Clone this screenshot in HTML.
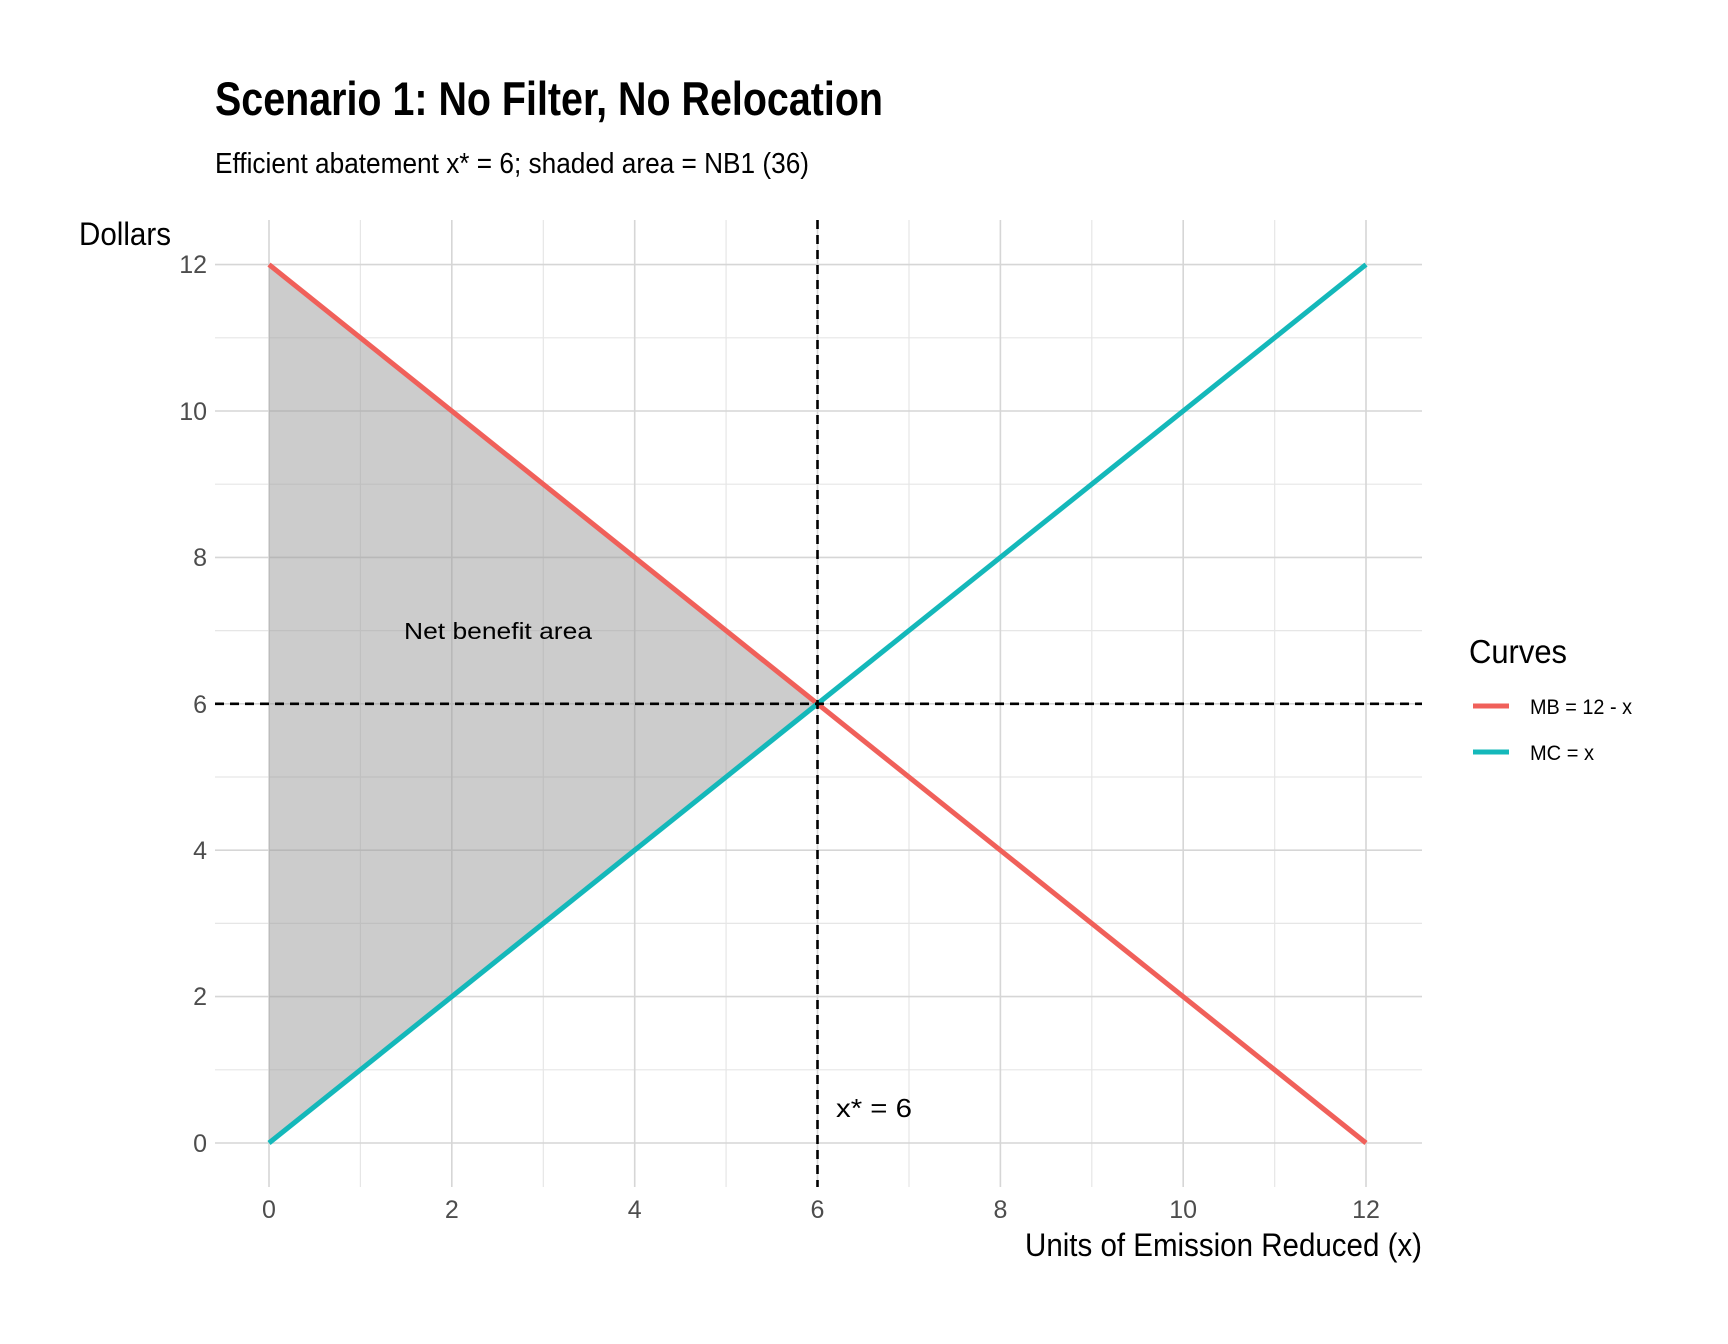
<!DOCTYPE html>
<html><head><meta charset="utf-8"><style>html,body{margin:0;padding:0;background:#fff}svg{display:block}</style></head>
<body>
<svg width="1728" height="1344" viewBox="0 0 1728 1344" xmlns="http://www.w3.org/2000/svg" font-family="'Liberation Sans Narrow','Liberation Sans',sans-serif">
<rect width="1728" height="1344" fill="#fff"/>
<g stroke="#e6e6e6" stroke-width="1.2">
<line x1="215" x2="1422" y1="1069.8" y2="1069.8"/><line x1="215" x2="1422" y1="923.4" y2="923.4"/><line x1="215" x2="1422" y1="777" y2="777"/><line x1="215" x2="1422" y1="630.6" y2="630.6"/><line x1="215" x2="1422" y1="484.2" y2="484.2"/><line x1="215" x2="1422" y1="337.8" y2="337.8"/>
<line y1="220" y2="1187" x1="360.4" x2="360.4"/><line y1="220" y2="1187" x1="543.3" x2="543.3"/><line y1="220" y2="1187" x1="726.1" x2="726.1"/><line y1="220" y2="1187" x1="909" x2="909"/><line y1="220" y2="1187" x1="1091.8" x2="1091.8"/><line y1="220" y2="1187" x1="1274.7" x2="1274.7"/>
</g>
<g stroke="#d6d6d6" stroke-width="1.6">
<line x1="215" x2="1422" y1="1143" y2="1143"/><line x1="215" x2="1422" y1="996.6" y2="996.6"/><line x1="215" x2="1422" y1="850.2" y2="850.2"/><line x1="215" x2="1422" y1="703.8" y2="703.8"/><line x1="215" x2="1422" y1="557.4" y2="557.4"/><line x1="215" x2="1422" y1="411" y2="411"/><line x1="215" x2="1422" y1="264.6" y2="264.6"/>
<line y1="220" y2="1187" x1="269" x2="269"/><line y1="220" y2="1187" x1="451.8" x2="451.8"/><line y1="220" y2="1187" x1="634.7" x2="634.7"/><line y1="220" y2="1187" x1="817.5" x2="817.5"/><line y1="220" y2="1187" x1="1000.4" x2="1000.4"/><line y1="220" y2="1187" x1="1183.2" x2="1183.2"/><line y1="220" y2="1187" x1="1366" x2="1366"/>
</g>
<polygon points="269,264.6 817.5,703.8 269,1143" fill="#999" fill-opacity="0.5"/>
<line x1="269" y1="264.6" x2="1366" y2="1143" stroke="#F0605A" stroke-width="5"/>
<line x1="269" y1="1143" x2="1366" y2="264.6" stroke="#14B8BA" stroke-width="5"/>
<g stroke="#000" stroke-width="2.6" stroke-dasharray="9,6">
<line x1="215" x2="1422" y1="703.8" y2="703.8"/>
<line y1="220" y2="1187" x1="817.5" x2="817.5"/>
</g>
<text x="498" y="639" font-family="'Liberation Sans',sans-serif" font-size="23" text-anchor="middle" textLength="188" lengthAdjust="spacingAndGlyphs">Net benefit area</text>
<text x="836" y="1117" font-family="'Liberation Sans',sans-serif" font-size="26" textLength="76" lengthAdjust="spacingAndGlyphs">x* = 6</text>
<g fill="#4d4d4d" font-size="25">
<g text-anchor="end"><text x="207" y="1152">0</text><text x="207" y="1005">2</text><text x="207" y="859">4</text><text x="207" y="713">6</text><text x="207" y="566">8</text><text x="207" y="420">10</text><text x="207" y="273">12</text></g>
<g text-anchor="middle"><text x="269" y="1218">0</text><text x="451.8" y="1218">2</text><text x="634.7" y="1218">4</text><text x="817.5" y="1218">6</text><text x="1000.4" y="1218">8</text><text x="1183.2" y="1218">10</text><text x="1366" y="1218">12</text></g>
</g>
<text x="79" y="245" font-size="32" textLength="92" lengthAdjust="spacingAndGlyphs">Dollars</text>
<text x="1025" y="1256" font-size="32" textLength="397" lengthAdjust="spacingAndGlyphs">Units of Emission Reduced (x)</text>
<text x="215" y="115" font-size="47" font-weight="bold" textLength="668" lengthAdjust="spacingAndGlyphs">Scenario 1: No Filter, No Relocation</text>
<text x="215" y="173" font-size="29" textLength="594" lengthAdjust="spacingAndGlyphs">Efficient abatement x* = 6; shaded area = NB1 (36)</text>
<text x="1469" y="663" font-size="33" textLength="98" lengthAdjust="spacingAndGlyphs">Curves</text>
<line x1="1473" x2="1509" y1="706" y2="706" stroke="#F0605A" stroke-width="5"/>
<line x1="1473" x2="1509" y1="752" y2="752" stroke="#14B8BA" stroke-width="5"/>
<text x="1530" y="714" font-size="21" textLength="102" lengthAdjust="spacingAndGlyphs">MB = 12 - x</text>
<text x="1530" y="760" font-size="21" textLength="64" lengthAdjust="spacingAndGlyphs">MC = x</text>
</svg>
</body></html>
